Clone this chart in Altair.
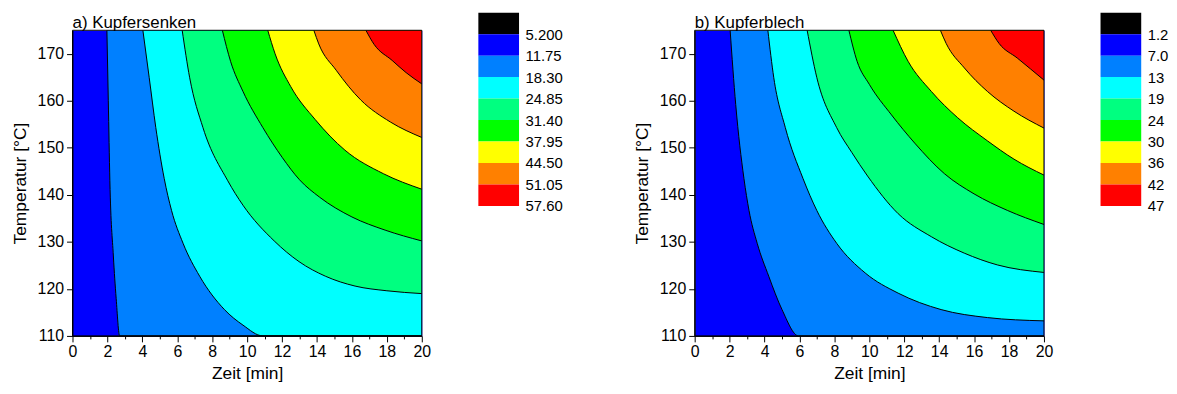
import json
import altair as alt
import pandas as pd

FONT = "Liberation Sans"

zeit_ticks = list(range(0, 21))
temp_ticks = list(range(110, 176, 5))

band_colors = ["#0000FF", "#0080FF", "#00FFFF", "#00FF80", "#00FF00",
               "#FFFF00", "#FF8000", "#FF0000"]
legend_colors = ["#000000"] + band_colors

a_levels = ["5.200", "11.75", "18.30", "24.85", "31.40", "37.95", "44.50", "51.05", "57.60"]
b_levels = ["1.2", "7.0", "13", "19", "24", "30", "36", "42", "47"]

# ---- a) Kupfersenken: contour lines (Zeit [min], Temperatur [°C]) ----
a_1175_x = [1.97, 2.05, 2.14, 2.34, 2.50, 2.70]
a_1175_y = [175, 160, 143, 127, 118, 110]
a_1830_x = [4.03, 4.39, 4.77, 5.25, 5.67, 6.33, 7.28, 8.70, 9.76, 10.90]
a_1830_y = [175, 165, 154.3, 143.5, 136.7, 129.7, 122.7, 115.6, 112.3, 110]
a_2485_x = [6.28, 6.71, 7.47, 8.89, 9.76, 11.55, 12.97, 14.48, 16.18, 18.0, 20.0]
a_2485_y = [175, 164.9, 154.3, 143.0, 137.8, 130.2, 125.8, 122.7, 120.6, 119.6, 119.0]
a_3140_x = [8.58, 9.05, 9.76, 10.90, 12.0, 13.0, 14.15, 16.0, 17.9, 20.0]
a_3140_y = [175, 168.4, 162.0, 154.3, 148.0, 143.2, 139.5, 135.3, 132.5, 130.2]
a_3795_x = [11.18, 11.6, 12.5, 13.9, 15.6, 17.8, 20.0]
a_3795_y = [175, 170.0, 163.0, 156.0, 149.5, 144.5, 141.2]
a_4450_x = [13.82, 14.1, 15.1, 16.5, 18.2, 20.0]
a_4450_y = [175, 172.1, 166.5, 160.2, 155.5, 152.2]
a_5105_x = [16.8, 17.27, 18.3, 19.1, 20.0]
a_5105_y = [175, 172.0, 168.6, 166.0, 163.6]

# ---- b) Kupferblech ----
b_70_x = [2.03, 2.35, 2.82, 3.11, 3.58, 4.24, 5.00, 5.95]
b_70_y = [175, 159.2, 143.5, 136.7, 129.7, 122.7, 115.6, 110]
b_13_x = [4.19, 4.53, 5.19, 6.20, 6.99, 8.13, 9.76, 11.65, 14.11, 16.76, 20.0]
b_13_y = [175, 164.9, 154.3, 143.5, 136.7, 129.7, 123.4, 119.1, 115.6, 113.9, 113.2]
b_19_x = [6.44, 6.99, 8.13, 9.0, 9.9, 11.65, 13.55, 15.44, 17.33, 20.0]
b_19_y = [175, 165.0, 154.3, 149.0, 144.0, 136.0, 131.1, 127.6, 125.1, 123.5]
b_24_x = [8.83, 9.3, 10.0, 11.27, 12.6, 14.3, 16.0, 17.9, 20.0]
b_24_y = [175, 168.4, 163.5, 157.0, 151.0, 144.5, 140.2, 136.7, 133.7]
b_30_x = [11.36, 12.22, 13.55, 15.06, 16.76, 18.28, 20.0]
b_30_y = [175, 168.4, 162.0, 156.4, 151.5, 147.6, 144.2]
b_36_x = [14.07, 14.4, 15.44, 16.76, 18.28, 20.0]
b_36_y = [175, 172.2, 167.0, 162.0, 157.8, 154.2]
b_42_x = [16.95, 17.43, 18.47, 20.0]
b_42_y = [175, 172.2, 169.1, 164.4]

a_curves = [(a_1175_x, a_1175_y), (a_1830_x, a_1830_y), (a_2485_x, a_2485_y),
            (a_3140_x, a_3140_y), (a_3795_x, a_3795_y), (a_4450_x, a_4450_y),
            (a_5105_x, a_5105_y)]
b_curves = [(b_70_x, b_70_y), (b_13_x, b_13_y), (b_19_x, b_19_y),
            (b_24_x, b_24_y), (b_30_x, b_30_y), (b_36_x, b_36_y),
            (b_42_x, b_42_y)]

X_MIN, X_MAX = zeit_ticks[0], zeit_ticks[-1]
Y_MIN, Y_MAX = temp_ticks[0], temp_ticks[-1]


def contour_frame(curves):
    rows = []
    for k, (xs, ys) in enumerate(curves, start=1):
        xs2, ys2 = list(xs), list(ys)
        # a contour that leaves through the bottom edge: its region continues
        # along the bottom edge to the right border
        if ys2[-1] <= Y_MIN and xs2[-1] < X_MAX:
            xs2.append(X_MAX)
            ys2.append(Y_MIN)
        for x, y in zip(xs2, ys2):
            rows.append({"zeit": x, "temp": y, "level": k})
    return pd.DataFrame(rows)


def panel(curves, title):
    df = contour_frame(curves)
    xs = alt.Scale(domain=[X_MIN, X_MAX], nice=False, zero=False)
    ys = alt.Scale(domain=[Y_MIN, Y_MAX], nice=False, zero=False)
    xaxis = alt.Axis(
        values=zeit_ticks, title="Zeit [min]",
        labelExpr="datum.value % 2 === 0 ? datum.label : ''",
        tickSize={"condition": {"test": "datum.value % 2 === 0", "value": 6}, "value": 3},
        labelFlush=False, labelOverlap=False, grid=False, zindex=1,
        labelFontSize=16, titleFontSize=17.5, labelPadding=2, titlePadding=5,
        domainColor="black", tickColor="black", labelColor="black", titleColor="black",
        titleFontWeight="normal",
    )
    yaxis = alt.Axis(
        values=temp_ticks, title="Temperatur [°C]",
        labelExpr="datum.value % 10 === 0 ? datum.label : ''",
        tickSize={"condition": {"test": "datum.value % 10 === 0", "value": 6}, "value": 3},
        labelOverlap=False, grid=False, zindex=1,
        labelFontSize=16, titleFontSize=17.5, labelPadding=3, titlePadding=8,
        domainColor="black", tickColor="black", labelColor="black", titleColor="black",
        titleFontWeight="normal",
    )
    base = alt.Chart(df)
    layers = []
    for k in range(1, len(curves) + 1):
        layers.append(
            base.transform_filter(alt.datum.level == k)
            .mark_area(color=band_colors[k], interpolate="monotone", clip=True)
            .encode(
                x=alt.X("zeit:Q", scale=xs, axis=xaxis),
                y=alt.Y("temp:Q", scale=ys, axis=yaxis, stack=None),
                y2=alt.datum(Y_MAX),
            )
        )
    lines = base.mark_line(color="black", strokeWidth=1, interpolate="monotone",
                           clip=True).encode(
        x=alt.X("zeit:Q", scale=xs, axis=xaxis),
        y=alt.Y("temp:Q", scale=ys, axis=yaxis),
        detail="level:N",
    )
    frame = alt.Chart(pd.DataFrame({"x0": [X_MIN]})).mark_rect(
        filled=False, stroke="black", strokeWidth=1
    ).encode(
        x=alt.X("x0:Q", scale=xs, axis=xaxis),
        x2=alt.datum(X_MAX),
        y=alt.datum(Y_MIN),
        y2=alt.datum(Y_MAX),
    )
    return alt.layer(*layers, lines, frame).properties(
        width=352, height=308,
        title=alt.TitleParams(title, anchor="start", frame="group", fontSize=17, font=FONT,
                              fontWeight="normal", color="black", offset=-2),
        view=alt.ViewBackground(fill=band_colors[0], stroke="transparent"),
    )


def legend_chart(labels):
    df = pd.DataFrame({
        "i0": list(range(len(legend_colors))),
        "i1": list(range(1, len(legend_colors) + 1)),
        "c": legend_colors,
    })
    return alt.Chart(df).mark_rect().encode(
        x=alt.value(0),
        x2=alt.value("width"),
        y=alt.Y("i0:Q", scale=alt.Scale(domain=[0, len(legend_colors)], range=[-17.7, 177],
                                        nice=False, zero=False),
                axis=alt.Axis(orient="right", values=list(range(1, len(labels) + 1)),
                              labelExpr=json.dumps(labels) + "[datum.value - 1]",
                              ticks=False, domain=False, grid=False, title=None,
                              labelPadding=6, labelFontSize=15, labelColor="black",
                              labelOverlap=False, labelBaseline="middle")),
        y2="i1:Q",
        color=alt.Color("c:N", scale=None),
    ).properties(width=41, height=177,
                 view=alt.ViewBackground(stroke="transparent"))


chart = alt.hconcat(
    alt.hconcat(panel(a_curves, "a) Kupfersenken"), legend_chart(a_levels), spacing=46),
    alt.hconcat(panel(b_curves, "b) Kupferblech"), legend_chart(b_levels), spacing=46),
    spacing=69,
).properties(
    padding={"left": 2, "top": 2, "right": 0, "bottom": 0}
).configure(font=FONT).configure_view(stroke="transparent")

chart.save("out.html", embed_options={"renderer": "svg", "actions": False})
